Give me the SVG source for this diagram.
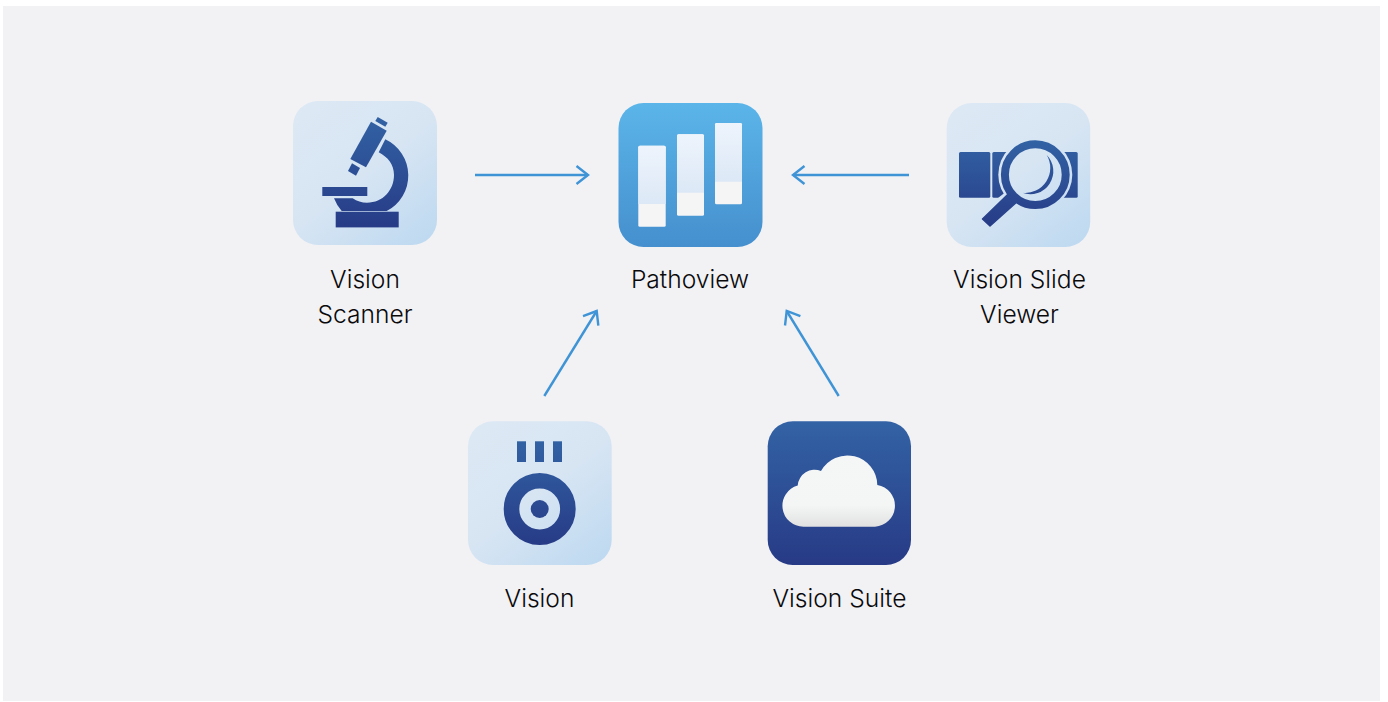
<svg xmlns="http://www.w3.org/2000/svg" width="1388" height="702" viewBox="0 0 1388 702">
<style>
.lbl{font-family:"Inter","Liberation Sans",sans-serif;font-weight:280;font-size:24.6px;fill:#0a0a0c;text-anchor:middle}
.arrow{fill:none;stroke:#3f94d6;stroke-width:2.4;marker-end:url(#head)}
.barTop{fill:url(#barG)}
.barBot{fill:#f5f5f6}
</style>
<defs>
<marker id="head" markerUnits="userSpaceOnUse" markerWidth="30" markerHeight="30" refX="15" refY="15" orient="auto" viewBox="0 0 30 30">
<path d="M3.5 6 L15 15 L3.5 24" fill="none" stroke="#3f94d6" stroke-width="2.4"/>
</marker>
<linearGradient id="t1" gradientUnits="userSpaceOnUse" x1="323" y1="101" x2="437" y2="245"><stop offset="0" stop-color="#dce8f4"/><stop offset=".45" stop-color="#d7e5f3"/><stop offset="1" stop-color="#bcd8f0"/></linearGradient>
<linearGradient id="t2" gradientUnits="userSpaceOnUse" x1="977" y1="103" x2="1090" y2="247"><stop offset="0" stop-color="#dce8f4"/><stop offset=".45" stop-color="#d7e5f3"/><stop offset="1" stop-color="#bcd8f0"/></linearGradient>
<linearGradient id="t3" gradientUnits="userSpaceOnUse" x1="498" y1="421" x2="612" y2="565"><stop offset="0" stop-color="#dce8f4"/><stop offset=".45" stop-color="#d7e5f3"/><stop offset="1" stop-color="#bcd8f0"/></linearGradient>
<linearGradient id="d1" gradientUnits="userSpaceOnUse" x1="0" y1="117" x2="0" y2="227"><stop offset="0" stop-color="#3262a4"/><stop offset="1" stop-color="#273b86"/></linearGradient>
<linearGradient id="d2" gradientUnits="userSpaceOnUse" x1="0" y1="141" x2="0" y2="227"><stop offset="0" stop-color="#3262a4"/><stop offset="1" stop-color="#273b86"/></linearGradient>
<linearGradient id="d3" gradientUnits="userSpaceOnUse" x1="0" y1="441" x2="0" y2="545"><stop offset="0" stop-color="#3262a4"/><stop offset="1" stop-color="#273b86"/></linearGradient>
<linearGradient id="d4" gradientUnits="userSpaceOnUse" x1="0" y1="421" x2="0" y2="565"><stop offset="0" stop-color="#3363a5"/><stop offset="1" stop-color="#273a85"/></linearGradient>
<linearGradient id="blue" x1="0" y1="0" x2="0" y2="1"><stop offset="0" stop-color="#5bb5e9"/><stop offset="1" stop-color="#458fce"/></linearGradient>
<linearGradient id="barG" x1="0" y1="0" x2="0" y2="1"><stop offset="0" stop-color="#eef4fc"/><stop offset="1" stop-color="#dce8f6"/></linearGradient>
<linearGradient id="cloudG" x1="0" y1="0" x2="0" y2="1"><stop offset="0" stop-color="#f5f7f7"/><stop offset=".7" stop-color="#f4f6f6"/><stop offset="1" stop-color="#e1e1e1"/></linearGradient>
</defs>
<rect x="3" y="6" width="1377" height="695" fill="#f2f2f5"/>
<g id="connectors">
<path class="arrow" d="M475 175 H588"/>
<path class="arrow" d="M909 175 H793"/>
<path class="arrow" d="M544.3 396 L596.7 311"/>
<path class="arrow" d="M838.7 396 L786.7 311"/>
</g>
<g id="vision-scanner">
<rect x="293" y="101" width="144" height="144" rx="25" fill="url(#t1)"/>
<g fill="url(#d1)">
<polygon points="371,121.7 386.7,130.7 366,167.3 350.3,159"/>
<polygon points="377.7,117 387.7,122.7 385.3,126.7 375.3,121"/>
<polygon points="352,163.3 360,168 356,175.7 348,171"/>
<rect x="322.3" y="187" width="45" height="9"/>
<path d="M385.3 139.3 A40 40 0 0 1 386.7 211 L341.7 211 Q337 206 334 198.3 L352.7 198.3 Q359 202.7 367 202.7 C383 202.7 394 190 394 175 C394 165 388 157 378.7 152.3 Z"/>
<rect x="335.7" y="211.7" width="63" height="15.7"/>
</g>
<text class="lbl" x="365" y="288">Vision</text>
<text class="lbl" x="365" y="323">Scanner</text>
</g>
<g id="pathoview">
<rect x="618.5" y="103" width="144" height="144" rx="25" fill="url(#blue)"/>
<rect class="barBot" x="638.3" y="145.7" width="27.4" height="81" rx="1.5"/>
<path class="barTop" d="M638.3 204 V147.2 Q638.3 145.7 639.8 145.7 H664.2 Q665.7 145.7 665.7 147.2 V204 Z"/>
<rect class="barBot" x="677" y="134.3" width="27" height="81.4" rx="1.5"/>
<path class="barTop" d="M677 192.7 V135.8 Q677 134.3 678.5 134.3 H702.5 Q704 134.3 704 135.8 V192.7 Z"/>
<rect class="barBot" x="715" y="123" width="27" height="81.3" rx="1.5"/>
<path class="barTop" d="M715 181.7 V124.5 Q715 123 716.5 123 H740.5 Q742 123 742 124.5 V181.7 Z"/>
<text class="lbl" x="690" y="288">Pathoview</text>
</g>
<g id="vision-slide-viewer">
<rect x="946.7" y="103" width="143.5" height="144" rx="25" fill="url(#t2)"/>
<rect x="959" y="152" width="31.3" height="45.7" rx="1.5" fill="url(#d2)"/>
<rect x="992.3" y="152" width="85.4" height="45.7" rx="1.5" fill="url(#d2)"/>
<circle cx="1035.3" cy="174.7" r="37" fill="url(#t2)"/>
<path d="M1007 191 L1019 203 L1010 210 L998 198 Z" fill="url(#t2)"/>
<polygon points="1007.7,194.5 1016,202.7 990,226 982.5,219" fill="url(#d2)" stroke="url(#d2)" stroke-width="1.5" stroke-linejoin="round"/>
<circle cx="1035.3" cy="174.7" r="30.4" fill="none" stroke="url(#d2)" stroke-width="8"/>
<path d="M1046.7 155 A23 23 0 0 1 1022.3 192.7 A25 25 0 0 0 1046.7 155 Z" fill="url(#d2)"/>
<text class="lbl" x="1019.5" y="288">Vision Slide</text>
<text class="lbl" x="1019.5" y="323">Viewer</text>
</g>
<g id="vision">
<rect x="468" y="421.3" width="143.7" height="143.7" rx="25" fill="url(#t3)"/>
<rect x="517" y="441.3" width="9" height="20.7" fill="url(#d3)"/>
<rect x="535" y="441.3" width="9" height="20.7" fill="url(#d3)"/>
<rect x="553" y="441.3" width="9" height="20.7" fill="url(#d3)"/>
<circle cx="539.7" cy="509" r="28.2" fill="none" stroke="url(#d3)" stroke-width="15.6"/>
<circle cx="539.7" cy="509" r="9" fill="url(#d3)"/>
<text class="lbl" x="539.5" y="607">Vision</text>
</g>
<g id="vision-suite">
<rect x="767.7" y="421.3" width="143.3" height="143.7" rx="25" fill="url(#d4)"/>
<path d="M803.5 526.7 A21 21 0 0 1 797.7 485.5 A17 17 0 0 1 821 471 A30 30 0 0 1 877.3 485 A21 21 0 0 1 875 526.7 Z" fill="url(#cloudG)"/>
<text class="lbl" x="839.5" y="607">Vision Suite</text>
</g>
</svg>
